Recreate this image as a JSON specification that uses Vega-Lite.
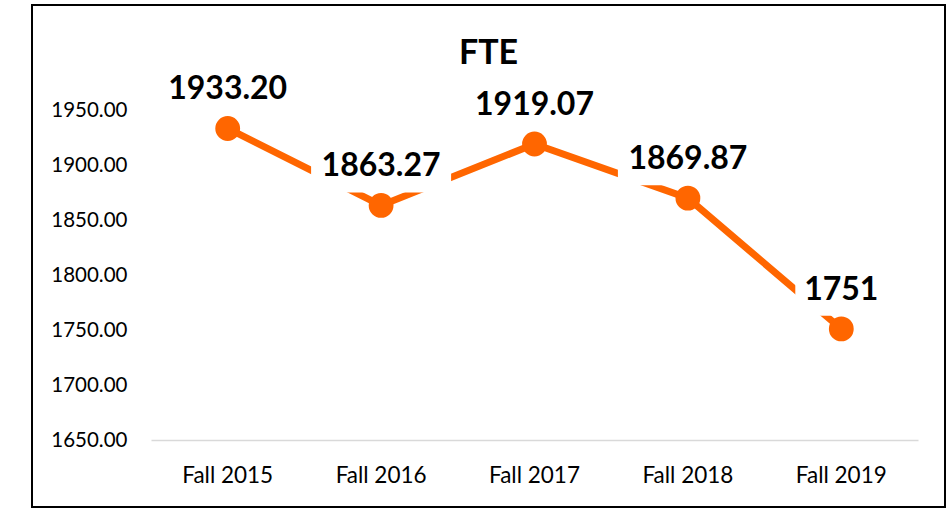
{
  "$schema": "https://vega.github.io/schema/vega-lite/v6.json",
  "width": 913,
  "height": 502,
  "autosize": {"type": "none"},
  "padding": {"left": 32, "top": 5, "right": 3, "bottom": 4},
  "background": "white",
  "title": {"text": "FTE", "font": "Lato", "fontSize": 34, "fontWeight": "bold", "color": "#000000", "anchor": "middle", "frame": "group", "offset": -66},
  "config": {"view": {"stroke": "#000000", "strokeWidth": 2}, "font": "Lato"},
  "data": {"values": [
    {"term": "Fall 2015", "fte": 1933.20, "label": "1933.20"},
    {"term": "Fall 2016", "fte": 1863.27, "label": "1863.27"},
    {"term": "Fall 2017", "fte": 1919.07, "label": "1919.07"},
    {"term": "Fall 2018", "fte": 1869.87, "label": "1869.87"},
    {"term": "Fall 2019", "fte": 1751, "label": "1751"}
  ]},
  "encoding": {
    "x": {"field": "term", "type": "ordinal", "bandPosition": 0.5,
      "scale": {"type": "band", "range": [119, 886], "paddingInner": 0, "paddingOuter": 0},
      "axis": {"title": null, "orient": "bottom", "offset": -67, "domainColor": "#d9d9d9", "domainWidth": 1.5, "ticks": false, "grid": false, "labelPadding": 24, "labelFont": "Lato", "labelFontSize": 22.5, "labelColor": "#000000", "labelAngle": 0}},
    "y": {"field": "fte", "type": "quantitative",
      "scale": {"domain": [1650, 1950], "range": [435, 105], "nice": false, "zero": false},
      "axis": {"title": null, "offset": -95, "values": [1650, 1700, 1750, 1800, 1850, 1900, 1950], "format": ".2f", "domain": false, "ticks": false, "grid": false, "labelPadding": 0, "labelFont": "Lato", "labelFontSize": 20.5, "labelColor": "#000000"}}
  },
  "layer": [
    {"mark": {"type": "line", "color": "#FF6600", "strokeWidth": 7}},
    {"transform": [{"filter": "length(datum.label) > 4"}],
     "mark": {"type": "point", "shape": "M-1,-0.386H1V0.386H-1Z", "size": 19600, "filled": true, "fill": "white", "color": "white", "opacity": 1, "strokeWidth": 0, "yOffset": -40}},
    {"transform": [{"filter": "length(datum.label) <= 4"}],
     "mark": {"type": "point", "shape": "M-1,-0.54H1V0.54H-1Z", "size": 8464, "filled": true, "fill": "white", "color": "white", "opacity": 1, "strokeWidth": 0, "yOffset": -38}},
    {"mark": {"type": "circle", "color": "#FF6600", "size": 616, "opacity": 1}},
    {"mark": {"type": "text", "font": "Lato", "fontSize": 32, "fontWeight": "bold", "color": "#000000", "dy": -39, "baseline": "middle"},
     "encoding": {"text": {"field": "label"}}}
  ]
}
